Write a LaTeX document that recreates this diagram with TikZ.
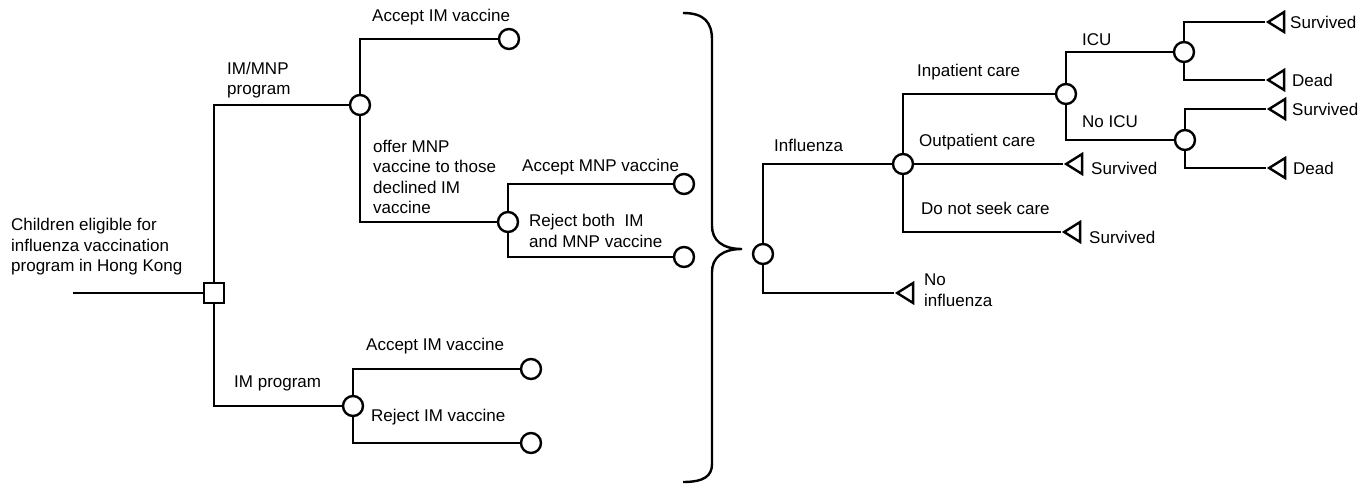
\documentclass[tikz,border=0pt]{standalone}
\usepackage{fontspec}
\setmainfont{Liberation Sans}
\usetikzlibrary{shapes.geometric}
\newcommand{\px}{1pt}

\begin{document}
\begin{tikzpicture}[x=\px, y=-\px, line width=2.4pt,
    chance/.style={draw, circle, minimum size=20, inner sep=0pt},
    decision/.style={draw, rectangle, minimum size=20, inner sep=0pt},
    term/.style={draw, isosceles triangle, isosceles triangle stretches, shape border rotate=180, minimum width=20, minimum height=16, inner sep=0pt, anchor=apex},
    lbl/.style={anchor=west, align=left, inner sep=0pt, font=\fontsize{17}{20.5}\selectfont}]
    \useasboundingbox (0,0) rectangle (1370,484);

    % Vaccination programs
    \coordinate (start) at (73,293);
    \node[decision] (prog) at (214,293) {};
    \node[chance] (imnp) at (360,105) {};
    \node[chance] (imnp-acc) at (509,39) {};
    \node[chance] (offer) at (508,222) {};
    \node[chance] (offer-acc) at (684,184) {};
    \node[chance] (offer-rej) at (684,257) {};
    \node[chance] (im) at (353,406) {};
    \node[chance] (im-acc) at (531,369) {};
    \node[chance] (im-rej) at (531,443) {};

    \draw (start) -- (prog.west);
    \draw (prog.north) |- (imnp.west);
    \draw (prog.south) |- (im.west);
    \draw (imnp.north) |- (imnp-acc.west);
    \draw (imnp.south) |- (offer.west);
    \draw (offer.north) |- (offer-acc.west);
    \draw (offer.south) |- (offer-rej.west);
    \draw (im.north) |- (im-acc.west);
    \draw (im.south) |- (im-rej.west);

    \node[lbl] (lbl-start) at (10,247) {Children eligible for\\influenza vaccination\\program in Hong Kong};
    \node[lbl] (lbl-imnp) at (226,80) {IM/MNP\\program};
    \node[lbl] (lbl-imnp-acc) at (371,17) {Accept IM vaccine};
    \node[lbl] (lbl-offer) at (372,177) {offer MNP\\vaccine to those\\declined IM\\vaccine};
    \node[lbl] (lbl-offer-acc) at (521,167) {Accept MNP vaccine};
    \node[lbl] (lbl-offer-rej) at (528,231) {Reject both\ \ IM\\and MNP vaccine};
    \node[lbl] (lbl-im) at (233,383) {IM program};
    \node[lbl] (lbl-im-acc) at (365,346) {Accept IM vaccine};
    \node[lbl] (lbl-im-rej) at (370,417) {Reject IM vaccine};

    % Brace
    \draw (683,13) .. controls (704,13) and (712,22) .. (712,40) -- (712,226)
        .. controls (712,240) and (722,249) .. (742,249)
        .. controls (722,249) and (712,258) .. (712,272) -- (712,464)
        .. controls (712,476) and (704,482) .. (683,482);

    % Influenza outcomes
    \node[chance] (flu) at (763,254) {};
    \node[chance] (care) at (903,164) {};
    \node[term] (noflu) at (894,293) {};
    \node[chance] (inpat) at (1066,94) {};
    \node[term] (outpat) at (1063,164) {};
    \node[term] (nocare) at (1061,232) {};
    \node[chance] (icu) at (1184,52) {};
    \node[chance] (noicu) at (1185,140) {};
    \node[term] (icu-surv) at (1265,22) {};
    \node[term] (icu-dead) at (1265,80) {};
    \node[term] (noicu-surv) at (1266,109) {};
    \node[term] (noicu-dead) at (1266,168) {};

    \draw (flu.north) |- (care.west);
    \draw (flu.south) |- (noflu.apex);
    \draw (care.north) |- (inpat.west);
    \draw (care.east) -- (outpat.apex);
    \draw (care.south) |- (nocare.apex);
    \draw (inpat.north) |- (icu.west);
    \draw (inpat.south) |- (noicu.west);
    \draw (icu.north) |- (icu-surv.apex);
    \draw (icu.south) |- (icu-dead.apex);
    \draw (noicu.north) |- (noicu-surv.apex);
    \draw (noicu.south) |- (noicu-dead.apex);

    \node[lbl] (lbl-flu) at (773,145) {Influenza};
    \node[lbl] (lbl-noflu) at (923,290) {No\\influenza};
    \node[lbl] (lbl-inpat) at (916,72) {Inpatient care};
    \node[lbl] (lbl-outpat) at (918,142) {Outpatient care};
    \node[lbl] (lbl-nocare) at (920,208) {Do not seek care};
    \node[lbl] (lbl-outpat-surv) at (1090,168) {Survived};
    \node[lbl] (lbl-nocare-surv) at (1088,237) {Survived};
    \node[lbl] (lbl-icu) at (1081,40) {ICU};
    \node[lbl] (lbl-noicu) at (1081,122) {No ICU};
    \node[lbl] (lbl-icu-surv) at (1289,22) {Survived};
    \node[lbl] (lbl-icu-dead) at (1291,80) {Dead};
    \node[lbl] (lbl-noicu-surv) at (1291,109) {Survived};
    \node[lbl] (lbl-noicu-dead) at (1292,168) {Dead};

\end{tikzpicture}
\end{document}
